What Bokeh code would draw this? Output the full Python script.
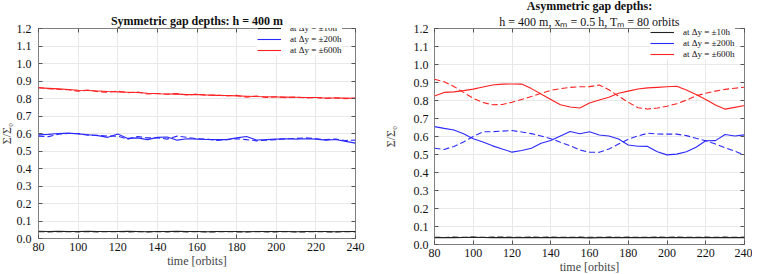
from bokeh.plotting import figure
from bokeh.layouts import row
from bokeh.models import (LinearAxis, Range1d, FixedTicker, Legend, LegendItem,
                          Title, NumeralTickFormatter)
from bokeh.embed import file_html
from bokeh.resources import INLINE

FONT = "Liberation Serif"
BLACK = "#222222"
BLUE = "#2a2aff"
RED = "#ff2020"

# ---------------- data ----------------
time = [80, 85, 90, 95, 100, 105, 110, 115, 120, 125, 130, 135, 140, 145, 150, 155, 160,
        165, 170, 175, 180, 185, 190, 195, 200, 205, 210, 215, 220, 225, 230, 235, 240]

x_ticks = [80, 100, 120, 140, 160, 180, 200, 220, 240]
y_ticks = [0.0, 0.1, 0.2, 0.3, 0.4, 0.5, 0.6, 0.7, 0.8, 0.9, 1.0, 1.1, 1.2]

legend_labels = ["at Δy = ±10h", "at Δy = ±200h", "at Δy = ±600h"]
titles_left = ["Symmetric gap depths: h = 400 m"]
titles_right = ["Asymmetric gap depths:", "h = 400 m, xₘ = 0.5 h, Tₘ = 80 orbits"]
x_label = "time [orbits]"
y_label = "Σ/Σ₀"

# symmetric
sym_black_solid = [0.041, 0.040, 0.041, 0.040, 0.040, 0.041, 0.040, 0.040, 0.040, 0.041, 0.040,
                   0.039, 0.040, 0.040, 0.041, 0.040, 0.040, 0.039, 0.040, 0.040, 0.040, 0.039,
                   0.040, 0.040, 0.040, 0.040, 0.039, 0.040, 0.040, 0.040, 0.039, 0.040, 0.040]
sym_black_dash = [0.039, 0.038, 0.039, 0.039, 0.038, 0.039, 0.038, 0.039, 0.039, 0.038, 0.039,
                  0.038, 0.039, 0.038, 0.039, 0.038, 0.039, 0.038, 0.038, 0.039, 0.038, 0.038,
                  0.039, 0.038, 0.038, 0.039, 0.038, 0.038, 0.039, 0.038, 0.038, 0.039, 0.038]
sym_blue_solid = [0.592, 0.595, 0.600, 0.602, 0.598, 0.593, 0.588, 0.578, 0.597, 0.572, 0.575,
                  0.565, 0.578, 0.580, 0.562, 0.570, 0.568, 0.566, 0.565, 0.565, 0.575, 0.583,
                  0.563, 0.565, 0.568, 0.570, 0.568, 0.570, 0.568, 0.562, 0.566, 0.555, 0.545]
sym_blue_dash = [0.585, 0.582, 0.596, 0.600, 0.600, 0.590, 0.590, 0.585, 0.585, 0.568, 0.583,
                 0.575, 0.575, 0.568, 0.585, 0.578, 0.570, 0.568, 0.560, 0.565, 0.570, 0.565,
                 0.558, 0.562, 0.565, 0.570, 0.572, 0.575, 0.570, 0.565, 0.568, 0.560, 0.562]
sym_red_solid = [0.861, 0.858, 0.855, 0.851, 0.847, 0.846, 0.843, 0.840, 0.838, 0.836, 0.834,
                 0.830, 0.827, 0.826, 0.825, 0.822, 0.822, 0.820, 0.818, 0.817, 0.815, 0.813,
                 0.811, 0.810, 0.809, 0.808, 0.807, 0.806, 0.806, 0.803, 0.803, 0.802, 0.801]
sym_red_dash = [0.862, 0.856, 0.853, 0.850, 0.842, 0.848, 0.839, 0.836, 0.842, 0.833, 0.837,
                0.826, 0.829, 0.824, 0.828, 0.820, 0.825, 0.818, 0.820, 0.815, 0.818, 0.808,
                0.814, 0.806, 0.810, 0.805, 0.808, 0.803, 0.806, 0.800, 0.804, 0.799, 0.802]

# asymmetric
asym_black_solid = [0.038, 0.039, 0.038, 0.039, 0.040, 0.039, 0.038, 0.039, 0.038, 0.038, 0.039,
                    0.038, 0.039, 0.038, 0.039, 0.038, 0.037, 0.038, 0.038, 0.039, 0.038, 0.038,
                    0.038, 0.039, 0.038, 0.038, 0.038, 0.039, 0.038, 0.038, 0.038, 0.038, 0.038]
asym_black_dash = [0.040, 0.039, 0.041, 0.040, 0.041, 0.040, 0.041, 0.042, 0.040, 0.040, 0.041,
                   0.040, 0.041, 0.040, 0.040, 0.041, 0.040, 0.040, 0.041, 0.040, 0.041, 0.040,
                   0.040, 0.041, 0.040, 0.041, 0.040, 0.040, 0.041, 0.040, 0.041, 0.040, 0.041]
asym_blue_solid = [0.655, 0.645, 0.636, 0.615, 0.588, 0.570, 0.548, 0.530, 0.513, 0.522, 0.535,
                   0.562, 0.578, 0.603, 0.628, 0.615, 0.626, 0.608, 0.603, 0.586, 0.553, 0.546,
                   0.545, 0.515, 0.498, 0.502, 0.515, 0.540, 0.576, 0.577, 0.611, 0.603, 0.609]
asym_blue_dash = [0.535, 0.528, 0.545, 0.570, 0.600, 0.626, 0.627, 0.630, 0.633, 0.625, 0.616,
                  0.603, 0.588, 0.568, 0.549, 0.525, 0.513, 0.512, 0.530, 0.558, 0.585, 0.603,
                  0.618, 0.614, 0.613, 0.613, 0.605, 0.590, 0.576, 0.558, 0.538, 0.518, 0.497]
asym_red_solid = [0.825, 0.845, 0.848, 0.855, 0.863, 0.875, 0.886, 0.891, 0.892, 0.891, 0.866,
                  0.836, 0.806, 0.776, 0.764, 0.758, 0.786, 0.803, 0.818, 0.840, 0.852, 0.864,
                  0.870, 0.873, 0.876, 0.879, 0.858, 0.833, 0.805, 0.775, 0.752, 0.762, 0.772]
asym_red_dash = [0.918, 0.904, 0.878, 0.845, 0.812, 0.789, 0.776, 0.778, 0.790, 0.806, 0.822,
                 0.840, 0.856, 0.866, 0.873, 0.876, 0.877, 0.886, 0.860, 0.824, 0.790, 0.760,
                 0.753, 0.758, 0.768, 0.782, 0.802, 0.826, 0.840, 0.852, 0.862, 0.868, 0.874]


def style_axis(ax, ticks, labels=True, fmt=None, hidden_size="1px"):
    ax.ticker = FixedTicker(ticks=ticks)
    ax.major_tick_in = 4
    ax.major_tick_out = 0
    ax.major_tick_line_color = "#555555"
    ax.minor_tick_line_color = None
    ax.axis_line_color = None
    if fmt is not None:
        ax.formatter = fmt
    if labels:
        ax.major_label_text_font = FONT
        ax.major_label_text_font_size = "12px"
        ax.major_label_text_color = "#111111"
    else:
        ax.major_label_text_color = None
        ax.major_label_text_font_size = hidden_size
        ax.major_label_standoff = 0


def make_panel(width, height, borders, titles, title_standoff, spacer, top_hidden_size,
               series, ylab_standoff, ylab_label_standoff, legend_loc):
    bl, br, bt, bb = borders
    p = figure(width=width, height=height, output_backend="svg", toolbar_location=None,
               title=None, x_range=Range1d(80, 240), y_range=Range1d(0, 1.2),
               min_border_left=bl, min_border_right=br,
               min_border_top=bt, min_border_bottom=bb)
    p.outline_line_color = "#808080"
    p.outline_line_width = 1
    p.background_fill_color = "white"
    p.border_fill_color = "white"
    for g in (p.xgrid, p.ygrid):
        g.grid_line_color = "#e8e8e8"
        g.grid_line_width = 1
    p.xgrid.ticker = FixedTicker(ticks=x_ticks)
    p.ygrid.ticker = FixedTicker(ticks=y_ticks)

    style_axis(p.xaxis[0], x_ticks)
    p.xaxis[0].major_label_standoff = 4
    p.xaxis[0].axis_label = x_label
    p.xaxis[0].axis_label_text_font = FONT
    p.xaxis[0].axis_label_text_font_style = "normal"
    p.xaxis[0].axis_label_text_font_size = "12px"
    p.xaxis[0].axis_label_standoff = 0

    style_axis(p.yaxis[0], y_ticks, fmt=NumeralTickFormatter(format="0.0"))
    p.yaxis[0].major_label_standoff = ylab_label_standoff
    p.yaxis[0].axis_label = y_label
    p.yaxis[0].axis_label_text_font = FONT
    p.yaxis[0].axis_label_text_font_style = "normal"
    p.yaxis[0].axis_label_text_font_size = "12px"
    p.yaxis[0].axis_label_standoff = ylab_standoff

    top = LinearAxis()
    style_axis(top, x_ticks, labels=False, hidden_size=top_hidden_size)
    p.add_layout(top, "above")
    right = LinearAxis()
    style_axis(right, y_ticks, labels=False)
    p.add_layout(right, "right")

    # titles: the first one added sits closest to the frame
    for i, t in enumerate(reversed(titles)):
        bold = (i == len(titles) - 1)
        p.add_layout(Title(text=t, align="center", standoff=title_standoff,
                           text_font=FONT, text_font_size="12px",
                           text_font_style="bold" if bold else "normal",
                           text_color="#111111"), "above")
    if spacer:
        # thin blank band above the titles
        p.add_layout(Title(text=" ", standoff=0, text_font=FONT,
                           text_font_size=spacer), "above")

    (bs, bd, us, ud, rs, rd) = series
    r_black = p.line(time, bs, line_color=BLACK, line_width=1.1)
    p.line(time, bd, line_color=BLACK, line_width=1.1, line_dash="6 3")
    r_blue = p.line(time, us, line_color=BLUE, line_width=1.1)
    p.line(time, ud, line_color=BLUE, line_width=1.1, line_dash="6 3")
    r_red = p.line(time, rs, line_color=RED, line_width=1.1)
    p.line(time, rd, line_color=RED, line_width=1.1, line_dash="6 3")

    items = [LegendItem(label=legend_labels[0], renderers=[r_black]),
             LegendItem(label=legend_labels[1], renderers=[r_blue]),
             LegendItem(label=legend_labels[2], renderers=[r_red])]
    leg = Legend(items=items, location=legend_loc, margin=0, padding=3, spacing=0,
                 glyph_width=24, glyph_height=10, label_height=11, label_standoff=9,
                 label_text_font=FONT, label_text_font_size="9px",
                 label_text_color="#111111",
                 border_line_color=None, background_fill_color="white",
                 background_fill_alpha=1.0)
    p.add_layout(leg)
    return p


left = make_panel(388, 278, (46, 25, 18, 28), titles_left, 1, None, "1px",
                  (sym_black_solid, sym_black_dash, sym_blue_solid, sym_blue_dash,
                   sym_red_solid, sym_red_dash), 0, 7, (219, 183))
right = make_panel(372, 284, (47, 8, 25, 22), titles_right, 0, "2px", "0px",
                   (asym_black_solid, asym_black_dash, asym_blue_solid, asym_blue_dash,
                    asym_red_solid, asym_red_dash), 13, 6, (216, 185))

# the reference picture uses the whole canvas, so pull the row into the page margin
layout = row(left, right, styles={"margin-top": "-8px", "margin-left": "-8px"})
open("out.html", "w").write(file_html(layout, INLINE))
